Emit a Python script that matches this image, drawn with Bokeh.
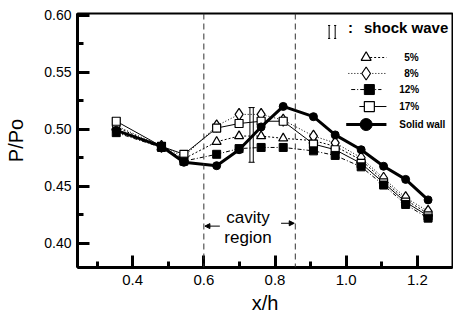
from bokeh.plotting import figure
from bokeh.embed import file_html
from bokeh.resources import INLINE
from bokeh.models import Span, Arrow, NormalHead, FixedTicker
from bokeh.core.properties import value

# ---- data ----
x_pos = [0.354, 0.481, 0.544, 0.636, 0.699, 0.761, 0.823, 0.908, 0.969, 1.042, 1.105, 1.167, 1.230]
solid_wall = [0.499, 0.485, 0.471, 0.468, 0.482, 0.502, 0.520, 0.511, 0.495, 0.482, 0.4675, 0.456, 0.438]
p5 = [0.502, 0.484, 0.474, 0.489, 0.494, 0.494, 0.492, 0.490, 0.485, 0.473, 0.455, 0.438, 0.426]
p8 = [0.503, 0.485, 0.476, 0.503, 0.513, 0.513, 0.508, 0.494, 0.488, 0.475, 0.457, 0.440, 0.428]
p12 = [0.497, 0.484, 0.472, 0.478, 0.483, 0.484, 0.484, 0.481, 0.477, 0.467, 0.451, 0.434, 0.422]
p17 = [0.507, 0.485, 0.478, 0.501, 0.505, 0.507, 0.507, 0.487, 0.482, 0.470, 0.453, 0.436, 0.424]
cavity_edges = [0.6, 0.857]
shock_x = [0.7295, 0.7389]
shock_y = [0.471, 0.519]
x_ticks = [0.4, 0.6, 0.8, 1.0, 1.2]
y_ticks = [0.40, 0.45, 0.50, 0.55, 0.60]
series_labels = ["5%", "8%", "12%", "17%", "Solid wall"]

FONT = "Liberation Sans"

p = figure(width=453, height=322, x_range=(0.2451, 1.2986), y_range=(0.3787, 0.6015),
           output_backend="svg", toolbar_location=None,
           min_border_left=77, min_border_right=1, min_border_top=13, min_border_bottom=55)
p.grid.visible = False
p.outline_line_color = "black"
p.outline_line_width = 2

for ax in (p.xaxis[0], p.yaxis[0]):
    ax.axis_line_width = 3
    ax.major_tick_line_width = 3
    ax.minor_tick_line_width = 3
    ax.major_tick_in = 12
    ax.major_tick_out = 0
    ax.minor_tick_in = 6
    ax.minor_tick_out = 0
    ax.major_label_text_font = FONT
    ax.major_label_text_color = "black"
    ax.axis_label_text_font = FONT
    ax.axis_label_text_font_style = "normal"
    ax.axis_label_text_color = "black"

p.xaxis.ticker = FixedTicker(ticks=x_ticks, minor_ticks=[0.3, 0.5, 0.7, 0.9, 1.1])
p.yaxis.ticker = FixedTicker(ticks=y_ticks, minor_ticks=[0.425, 0.475, 0.525, 0.575])
p.xaxis.major_label_overrides = {t: f"{t:.1f}" for t in x_ticks}
p.yaxis.major_label_overrides = {t: f"{t:.2f}" for t in y_ticks}
p.xaxis.major_label_text_font_size = "15px"
p.yaxis.major_label_text_font_size = "14px"
p.xaxis.major_label_standoff = 7
p.yaxis.major_label_standoff = 6
p.xaxis.axis_label = "x/h"
p.yaxis.axis_label = "P/Po"
p.xaxis.axis_label_text_font_size = "20px"
p.yaxis.axis_label_text_font_size = "20px"
p.xaxis.axis_label_standoff = 4
p.yaxis.axis_label_standoff = 14

# cavity boundaries
for e in cavity_edges:
    p.add_layout(Span(location=e, dimension="height", line_color="#333333",
                      line_width=1, line_dash="6 4"))

# series
p.line(x_pos, p5, line_color="black", line_width=1, line_dash="2 2")
p.scatter(x_pos, p5, marker="triangle", size=9, fill_color="white", line_color="black", line_width=1.2)
p.line(x_pos, p8, line_color="black", line_width=1, line_dash="1 2")
p.scatter(x_pos, p8, marker="diamond", size=12, fill_color="white", line_color="black", line_width=1.2)
p.line(x_pos, p17, line_color="black", line_width=1)
p.scatter(x_pos, p17, marker="square", size=8, fill_color="white", line_color="black", line_width=1.2)
p.line(x_pos, p12, line_color="black", line_width=1, line_dash="4 2 1 2")
p.scatter(x_pos, p12, marker="square", size=8, fill_color="black", line_color="black")
p.line(x_pos, solid_wall, line_color="black", line_width=3)
p.scatter(x_pos, solid_wall, marker="circle", size=8, fill_color="black", line_color="black")

# shock wave marker in plot
cap = 0.004
p.multi_line([[shock_x[0], shock_x[0]], [shock_x[1], shock_x[1]],
              [shock_x[0] - cap, shock_x[1] + cap], [shock_x[0] - cap, shock_x[1] + cap]],
             [[shock_y[0], shock_y[1]], [shock_y[0], shock_y[1]],
              [shock_y[1], shock_y[1]], [shock_y[0], shock_y[0]]],
             line_color="black", line_width=1)

# cavity region text and arrows
p.text([0.724, 0.724], [0.4225, 0.405], text=["cavity", "region"], text_font=value(FONT),
       text_font_size="17px", text_align="center", text_baseline="middle", text_color="black")
p.add_layout(Arrow(end=NormalHead(size=5, fill_color="black", line_color="black"),
                   x_start=0.645, y_start=0.415, x_end=0.603, y_end=0.415, line_width=1))
p.add_layout(Arrow(end=NormalHead(size=5, fill_color="black", line_color="black"),
                   x_start=0.817, y_start=0.4175, x_end=0.854, y_end=0.4175, line_width=1))

# legend: shock wave header
lx0, lx1 = 0.952, 0.969
ly0, ly1 = 0.5796, 0.5910
c2 = 0.003
p.multi_line([[lx0, lx0], [lx1, lx1], [lx0 - c2, lx0 + c2], [lx0 - c2, lx0 + c2],
              [lx1 - c2, lx1 + c2], [lx1 - c2, lx1 + c2]],
             [[ly0, ly1], [ly0, ly1], [ly0, ly0], [ly1, ly1], [ly0, ly0], [ly1, ly1]],
             line_color="black", line_width=1)
p.text([1.012], [0.5895], text=[":"], text_font=value(FONT), text_font_size="15px",
       text_font_style="bold", text_align="center", text_baseline="middle", text_color="black")
p.text([1.050], [0.5895], text=["shock wave"], text_font=value(FONT), text_font_size="15px",
       text_font_style="bold", text_align="left", text_baseline="middle", text_color="black")

# legend rows
rows_y = [0.5629, 0.5489, 0.5348, 0.5199, 0.5041]
p.line([1.056, 1.113], [rows_y[0]] * 2, line_color="black", line_width=1, line_dash="2 2")
p.scatter([1.056], [rows_y[0]], marker="triangle", size=10, fill_color="white", line_color="black", line_width=1.2)
p.line([1.006, 1.113], [rows_y[1]] * 2, line_color="black", line_width=1, line_dash="1 2")
p.scatter([1.056], [rows_y[1]], marker="diamond", size=13, fill_color="white", line_color="black", line_width=1.2)
p.line([1.014, 1.099], [rows_y[2]] * 2, line_color="black", line_width=1, line_dash="4 2 1 2")
p.scatter([1.065], [rows_y[2]], marker="square", size=10, fill_color="black", line_color="black")
p.line([1.037, 1.113], [rows_y[3]] * 2, line_color="black", line_width=1)
p.scatter([1.065], [rows_y[3]], marker="square", size=10, fill_color="white", line_color="black", line_width=1.2)
p.line([1.0, 1.113], [rows_y[4]] * 2, line_color="black", line_width=3)
p.scatter([1.056], [rows_y[4]], marker="circle", size=12, fill_color="black", line_color="black")
label_x = [1.163, 1.163, 1.149, 1.149, 1.149]
p.text(label_x, rows_y, text=series_labels, text_font=value(FONT), text_font_size="10px",
       text_font_style="bold", text_align="left", text_baseline="middle", text_color="black")

open("out.html", "w").write(file_html(p, INLINE))
